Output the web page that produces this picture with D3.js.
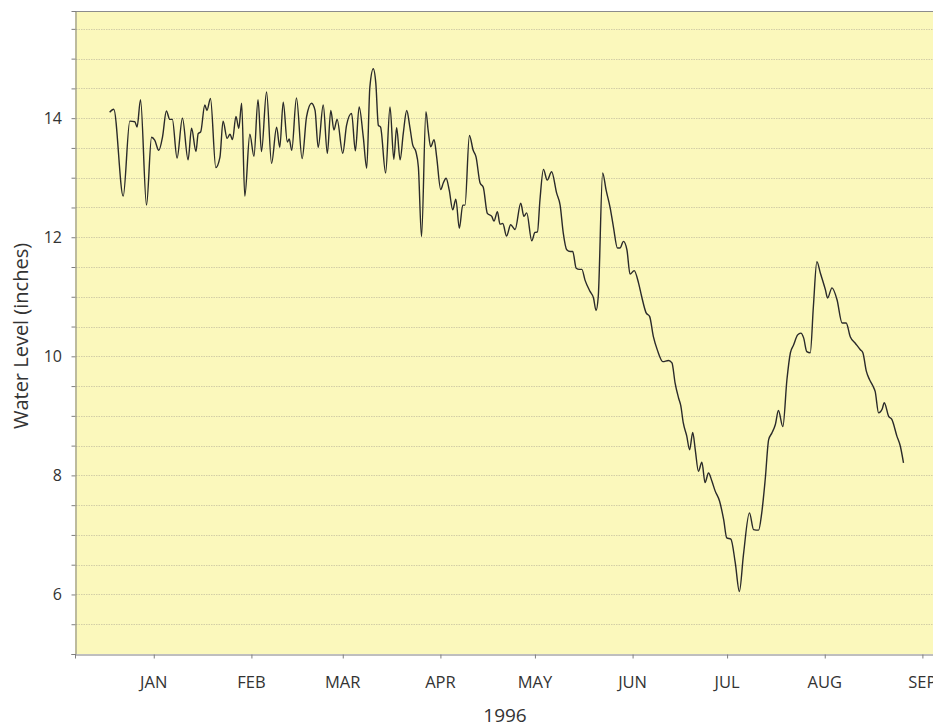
<!DOCTYPE html>
<html>
<head>
<meta charset="utf-8">
<script src="https://cdn.jsdelivr.net/npm/d3@7"></script>
<style>
  html, body { margin: 0; padding: 0; background: #ffffff; }
  svg { display: block; }
  text { font-family: "Open Sans", "DejaVu Sans", sans-serif; fill: #333; }
</style>
</head>
<body>
<svg id="chart" width="933" height="728"></svg>
<script>
// ---- data (days after 1 Jan 1996, water level in inches) ----
const dayOfYear = [
  0.0, 1.3, 4.3, 6.4, 8.0, 8.7, 9.8, 11.7, 13.3, 14.3, 15.6, 16.8, 18.0, 19.1, 19.9,
  21.4, 23.1, 24.9, 26.0, 27.4, 28.1, 28.9, 30.2, 30.9, 32.0, 33.7, 35.0, 36.0, 37.3,
  38.2, 39.0, 40.1, 41.0, 41.9, 42.9, 44.5, 45.8, 47.1,
  48.2, 49.8, 51.4, 53.0, 54.0, 55.1, 56.4, 57.0, 57.8, 59.3, 61.1, 62.5, 64.1, 65.2,
  66.2, 67.8, 69.1, 70.2, 71.2, 72.2, 74.0, 75.2, 76.8, 78.0, 79.2, 80.5, 81.6, 82.6,
  83.7, 84.5, 85.3, 86.0, 87.6, 89.0, 90.2, 91.1,
  92.2, 93.2, 94.3, 95.3, 96.2, 97.2, 98.0, 99.0, 100.4, 101.1, 101.9, 103.0, 103.8,
  105.1, 105.9, 106.8, 107.8, 108.9, 109.9, 111.0, 112.1, 112.8, 114.2, 115.4, 116.3,
  117.6, 118.6, 119.9, 121.3, 122.0, 123.1, 123.9, 124.8, 126.0, 127.3, 128.7, 130.5,
  131.5, 132.4, 134.0, 135.0, 135.8, 136.6, 137.7, 138.9, 140.3, 141.9, 143.0,
  144.0, 145.1, 146.2, 147.0, 148.1, 149.1, 149.9, 150.9, 152.5, 153.6, 154.4, 155.1,
  156.5, 157.6, 158.9, 159.9, 161.2, 162.0, 163.1, 164.2, 165.2, 166.5, 167.9, 168.9,
  170.3, 171.4,
  172.6, 173.9, 175.6, 177.4, 178.5, 179.5, 180.6, 181.3, 182.1, 183.2, 184.1, 185.1,
  185.9, 186.9, 188.0, 189.0, 190.1, 191.2, 192.2, 193.6, 194.9, 195.9, 197.2, 198.6,
  199.9, 201.2, 203.1, 204.4, 206.0, 207.0, 208.1, 209.2, 210.2, 211.3, 212.3, 213.7,
  215.0, 216.1, 217.1, 218.4, 219.4, 220.3, 221.3, 222.4, 223.4, 224.5, 225.6, 227.2,
  227.9, 229.3, 230.9, 232.5, 233.8, 235.1, 236.7, 238.3, 239.1, 240.2, 241.2, 242.3,
  243.0, 244.1, 245.2, 245.9, 247.3, 248.3, 249.9, 251.0, 252.0
];
const waterLevel = [
  14.10, 14.15, 12.69, 13.95, 13.94, 13.85, 14.31, 12.54, 13.68, 13.63, 13.46, 13.69, 14.12, 13.98, 13.98,
  13.33, 14.00, 13.30, 13.83, 13.44, 13.74, 13.77, 14.22, 14.13, 14.33, 13.17, 13.34, 13.95, 13.66,
  13.73, 13.64, 14.03, 13.83, 14.25, 12.69, 13.73, 13.36, 14.31,
  13.44, 14.44, 13.24, 13.85, 13.51, 14.27, 13.60, 13.65, 13.46, 14.34, 13.32, 14.02, 14.25, 14.13,
  13.51, 14.22, 13.41, 14.13, 13.80, 13.98, 13.41, 13.88, 14.08, 13.45, 14.19, 13.69, 13.16, 14.52,
  14.83, 14.58, 13.88, 13.85, 13.08, 14.19, 13.31, 13.84,
  13.30, 13.74, 14.13, 13.85, 13.55, 13.44, 13.18, 12.01, 14.11, 13.80, 13.52, 13.64, 13.35,
  12.80, 12.91, 12.99, 12.79, 12.46, 12.64, 12.15, 12.54, 12.54, 13.71, 13.46, 13.35,
  12.91, 12.84, 12.40, 12.35, 12.27, 12.43, 12.22, 12.23, 12.02, 12.21, 12.13, 12.57,
  12.35, 12.41, 11.94, 12.08, 12.09, 12.63, 13.14, 12.96, 13.10, 12.74, 12.54,
  12.07, 11.79, 11.76, 11.76, 11.48, 11.46, 11.46, 11.28, 11.09, 10.98, 10.77, 11.00,
  13.08, 12.79, 12.49, 12.18, 11.82, 11.82, 11.93, 11.79, 11.38, 11.44, 11.23, 11.00,
  10.73, 10.67,
  10.33, 10.10, 9.91, 9.93, 9.89, 9.55, 9.30, 9.17, 8.88, 8.66, 8.43, 8.72,
  8.43, 8.07, 8.22, 7.88, 8.04, 7.90, 7.74, 7.57, 7.26, 6.95, 6.93, 6.53,
  6.05, 6.67, 7.37, 7.09, 7.08, 7.37, 7.93, 8.60, 8.71, 8.85, 9.09, 8.82,
  9.61, 10.06, 10.19, 10.36, 10.39, 10.31, 10.08, 10.06, 10.84, 11.59, 11.40, 11.12,
  10.98, 11.15, 10.95, 10.56, 10.56, 10.33, 10.22, 10.11, 10.06, 9.75, 9.61, 9.50,
  9.41, 9.05, 9.11, 9.22, 8.99, 8.94, 8.66, 8.49, 8.21
];
const seriesStart = "1996-01-01";
const xDomain = ["1995-12-21", "1996-09-19"];
const yDomain = [5, 15.8];
const monthTicks = ["1996-01-15", "1996-02-15", "1996-03-15", "1996-04-15", "1996-05-15",
                    "1996-06-15", "1996-07-15", "1996-08-15", "1996-09-15"];
const monthLabels = ["JAN", "FEB", "MAR", "APR", "MAY", "JUN", "JUL", "AUG", "SEP"];
const yLabelTicks = [6, 8, 10, 12, 14];
const yMinorTicks = d3.range(5, 15.51, 0.5);
const xTitle = "1996";
const yTitle = "Water Level (inches)";

// ---- layout ----
const svg = d3.select("#chart");
const mLeft = 75, mRight = 935, mTop = 11, mBottom = 654;
const parse = d3.utcParse("%Y-%m-%d");
const DAY = 864e5;
const t0 = parse(seriesStart).getTime();
const data = dayOfYear.map((d, i) => ({ date: new Date(t0 + d * DAY), v: waterLevel[i] }));

const x = d3.scaleUtc().domain(xDomain.map(parse)).range([mLeft, mRight]);
const y = d3.scaleLinear().domain(yDomain).range([mBottom, mTop]);

// plot background
svg.append("rect")
  .attr("x", mLeft).attr("y", mTop)
  .attr("width", mRight - mLeft).attr("height", mBottom - mTop)
  .attr("fill", "#fbf8bc");

// gridlines
svg.append("g").selectAll("line")
  .data(yMinorTicks.filter(v => v > yDomain[0]))
  .join("line")
  .attr("x1", mLeft + 1).attr("x2", mRight)
  .attr("y1", d => Math.round(y(d)) + 0.5).attr("y2", d => Math.round(y(d)) + 0.5)
  .attr("stroke", "#d2cea6").attr("stroke-width", 1)
  .attr("stroke-dasharray", "1.5,1");

// top border
svg.append("line")
  .attr("x1", mLeft).attr("x2", mRight)
  .attr("y1", mTop + 0.5).attr("y2", mTop + 0.5)
  .attr("stroke", "#8c8c8c").attr("stroke-width", 1);

// y axis
const yAxis = svg.append("g")
  .attr("transform", `translate(${mLeft + 0.5},0)`)
  .call(d3.axisLeft(y).tickValues(yMinorTicks).tickSize(4).tickFormat(""));
yAxis.select(".domain").attr("stroke", "#7f7f7f");
yAxis.selectAll(".tick line").attr("stroke", "#7f7f7f");

svg.append("g").selectAll("text")
  .data(yLabelTicks)
  .join("text")
  .attr("x", 62).attr("y", d => y(d))
  .attr("text-anchor", "end").attr("dominant-baseline", "central")
  .attr("font-size", 16)
  .text(d => d);

// x axis
const xAxis = svg.append("g")
  .attr("transform", `translate(0,${mBottom + 0.5})`)
  .call(d3.axisBottom(x).tickValues(monthTicks.map(parse)).tickSize(4).tickFormat(""));
xAxis.select(".domain").attr("stroke", "#7f7f7f");
xAxis.selectAll(".tick line").attr("stroke", "#7f7f7f");

svg.append("g").selectAll("text")
  .data(monthTicks)
  .join("text")
  .attr("x", d => x(parse(d))).attr("y", 688)
  .attr("text-anchor", "middle")
  .attr("font-size", 16.5)
  .text((d, i) => monthLabels[i]);

// line
svg.append("path")
  .datum(data)
  .attr("fill", "none")
  .attr("stroke", "#2a2a2a")
  .attr("stroke-width", 1.4)
  .attr("stroke-linejoin", "round")
  .attr("d", d3.line().x(d => x(d.date)).y(d => y(d.v)).curve(d3.curveMonotoneX));

// titles
svg.append("text")
  .attr("x", 505).attr("y", 722)
  .attr("text-anchor", "middle")
  .attr("font-size", 19)
  .text(xTitle);

svg.append("text")
  .attr("transform", "translate(28,336) rotate(-90)")
  .attr("text-anchor", "middle")
  .attr("font-size", 20)
  .text(yTitle);
</script>
</body>
</html>
